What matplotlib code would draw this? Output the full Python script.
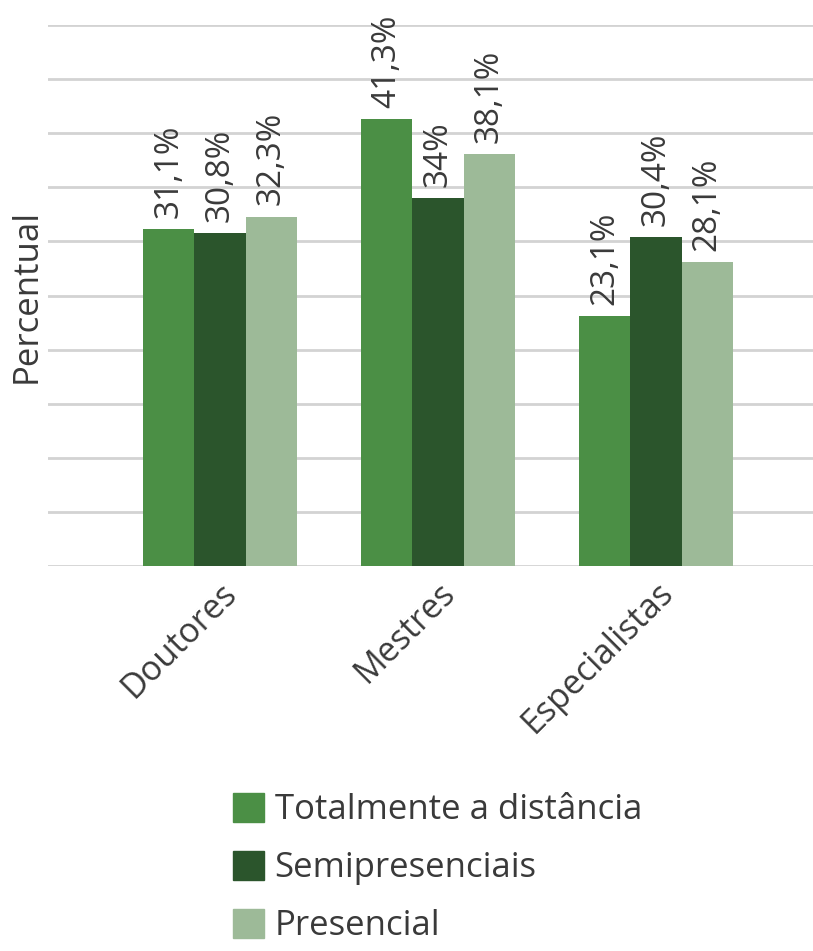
import matplotlib
matplotlib.use("Agg")
import matplotlib.pyplot as plt
import matplotlib.patches as mpatches
import numpy as np

categories = ["Doutores", "Mestres", "Especialistas"]
series_names = ["Totalmente a distância", "Semipresenciais", "Presencial"]
totalmente = [31.1, 41.3, 23.1]
semipresenciais = [30.8, 34.0, 30.4]
presencial = [32.3, 38.1, 28.1]
labels_tot = ["31,1%", "41,3%", "23,1%"]
labels_semi = ["30,8%", "34%", "30,4%"]
labels_pres = ["32,3%", "38,1%", "28,1%"]

colors = ["#4b8f45", "#2b552c", "#9dba98"]
text_color = "#3a3a3a"

plt.rcParams['font.family'] = ['Open Sans', 'DejaVu Sans']

W, H = 813, 951
AX_L = 48
fig = plt.figure(figsize=(W/100, H/100), dpi=100)
ax = fig.add_axes([AX_L/W, 1-566/H, (W-AX_L)/W, (566-25)/H])

x = np.arange(len(categories))
bw = 0.234
series = [totalmente, semipresenciais, presencial]
labels = [labels_tot, labels_semi, labels_pres]
for i, (vals, labs) in enumerate(zip(series, labels)):
    xs = x + (i-1)*bw
    ax.bar(xs, vals, width=bw, color=colors[i], zorder=3)
    for xx, v, l in zip(xs, vals, labs):
        ax.annotate(l, (xx, v), xytext=(0, 8), textcoords="offset points",
                    rotation=90, ha="center", va="bottom", fontsize=24,
                    color=text_color, annotation_clip=False, zorder=4)

ax.set_xlim((AX_L-220)/218, (813-220)/218)
ax.set_ylim(0, 50)
ax.set_yticks(np.arange(0, 51, 5))
ax.yaxis.grid(True, color="#d3d3d3", linewidth=2)
ax.set_axisbelow(True)
ax.tick_params(axis="y", left=False, labelleft=False)
ax.tick_params(axis="x", length=0, pad=7)
for s in ax.spines.values():
    s.set_visible(False)
ax.set_xticks(x)
ax.set_xticklabels(categories, rotation=45, ha="right", rotation_mode="anchor",
                   fontsize=24.5, color=text_color)
ax.set_ylabel("Percentual", fontsize=25, color=text_color)
ax.yaxis.set_label_coords((44-AX_L)/(W-AX_L), 0.5)

handles = [mpatches.Patch(color=c) for c in colors]
leg = fig.legend(handles, series_names, loc="upper left",
                 bbox_to_anchor=(233/W, 1-793/H), frameon=False,
                 fontsize=25, handlelength=0.9, handleheight=0.9,
                 handletextpad=0.3, labelspacing=0.68, borderpad=0,
                 borderaxespad=0)
for t in leg.get_texts():
    t.set_color(text_color)

fig.savefig("out.png", dpi=100)
